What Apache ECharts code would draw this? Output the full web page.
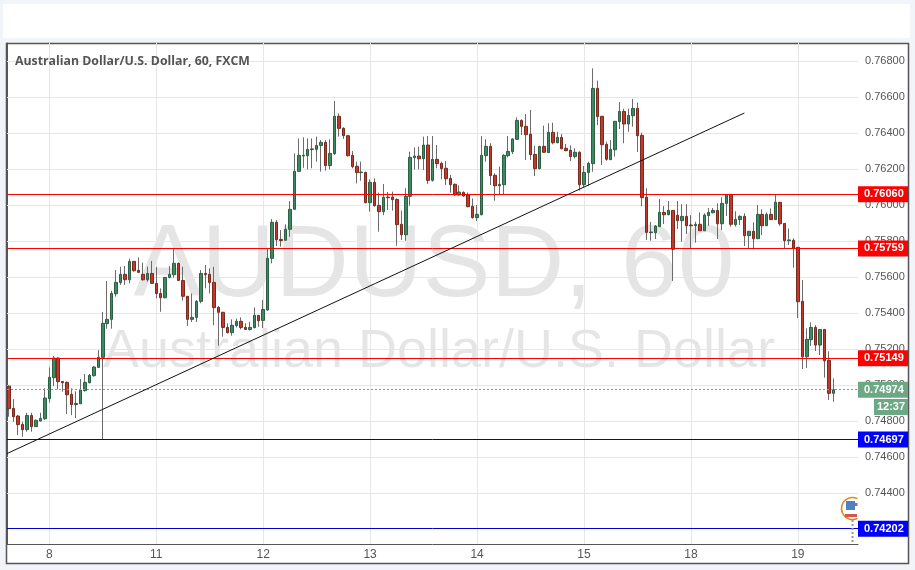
<!DOCTYPE html>
<html>
<head>
<meta charset="utf-8">
<style>
html,body{margin:0;padding:0;background:#f1f4f8}
#chart{width:915px;height:570px}
</style>
<script src="https://cdn.jsdelivr.net/npm/echarts@6/dist/echarts.min.js"></script>
</head>
<body>
<div id="chart"></div>
<script>
// hourly bars
const opens = [
0.74994,0.74870,0.74828,0.74781,0.74752,0.74831,0.74769,0.74800,0.74813,0.74924,
0.75041,0.75150,0.75020,0.75015,0.74948,0.74891,0.74896,0.74969,0.75013,0.75052,
0.75098,0.75154,0.75341,0.75365,0.75507,0.75569,0.75615,0.75585,0.75687,0.75637,
0.75615,0.75585,0.75620,0.75565,0.75509,0.75485,0.75598,0.75613,0.75676,0.75581,
0.75493,0.75365,0.75376,0.75465,0.75620,0.75615,0.75570,0.75431,0.75404,0.75320,
0.75291,0.75330,0.75354,0.75320,0.75309,0.75319,0.75387,0.75359,0.75417,0.75704,
0.75904,0.75809,0.75804,0.75865,0.75976,0.76187,0.76272,0.76274,0.76311,0.76309,
0.76331,0.76348,0.76219,0.76285,0.76493,0.76426,0.76385,0.76276,0.76215,0.76180,
0.76181,0.76013,0.76126,0.75998,0.75963,0.76044,0.76044,0.76031,0.75893,0.75835,
0.76048,0.76263,0.76272,0.76257,0.76333,0.76137,0.76254,0.76231,0.76204,0.76148,
0.76115,0.76056,0.76070,0.76057,0.75993,0.75930,0.75946,0.76274,0.76326,0.76165,
0.76107,0.76113,0.76274,0.76296,0.76365,0.76470,0.76437,0.76393,0.76281,0.76202,
0.76326,0.76291,0.76404,0.76346,0.76376,0.76315,0.76304,0.76269,0.76293,0.76113,
0.76180,0.76230,0.76648,0.76493,0.76337,0.76252,0.76307,0.76463,0.76520,0.76450,
0.76496,0.76537,0.76387,0.76043,0.75846,0.75846,0.75880,0.75959,0.75946,0.75970,
0.75943,0.75913,0.75937,0.75889,0.75885,0.75893,0.75857,0.75941,0.75957,0.75970,
0.75896,0.76009,0.76059,0.75891,0.75919,0.75937,0.75830,0.75854,0.75813,0.75948,
0.75885,0.75948,0.75919,0.76015,0.75898,0.75802,0.75804,0.75765,0.75465,0.75157,
0.75252,0.75320,0.75222,0.75309,0.75137,0.74954]
const closes = [
0.74869,0.74824,0.74780,0.74752,0.74831,0.74769,0.74804,0.74815,0.74928,0.75043,
0.75150,0.75019,0.75013,0.74946,0.74891,0.74898,0.74972,0.75015,0.75054,0.75100,
0.75154,0.75343,0.75365,0.75509,0.75570,0.75615,0.75585,0.75687,0.75635,0.75626,
0.75585,0.75620,0.75565,0.75509,0.75485,0.75598,0.75615,0.75676,0.75581,0.75493,
0.75365,0.75376,0.75465,0.75620,0.75613,0.75570,0.75430,0.75404,0.75320,0.75291,
0.75332,0.75354,0.75320,0.75309,0.75320,0.75387,0.75357,0.75420,0.75704,0.75904,
0.75807,0.75802,0.75865,0.75976,0.76187,0.76276,0.76276,0.76309,0.76309,0.76331,
0.76348,0.76219,0.76287,0.76493,0.76426,0.76385,0.76274,0.76213,0.76180,0.76183,
0.76013,0.76126,0.75996,0.75963,0.76043,0.76041,0.76030,0.75891,0.75835,0.76048,
0.76265,0.76272,0.76257,0.76333,0.76137,0.76254,0.76230,0.76202,0.76146,0.76113,
0.76057,0.76072,0.76050,0.75991,0.75930,0.75948,0.76276,0.76326,0.76163,0.76107,
0.76115,0.76276,0.76298,0.76367,0.76470,0.76437,0.76391,0.76280,0.76202,0.76326,
0.76293,0.76404,0.76346,0.76376,0.76313,0.76302,0.76269,0.76293,0.76113,0.76181,
0.76231,0.76648,0.76491,0.76335,0.76254,0.76309,0.76465,0.76520,0.76450,0.76498,
0.76537,0.76385,0.76041,0.75848,0.75850,0.75883,0.75959,0.75946,0.75970,0.75754,
0.75913,0.75937,0.75885,0.75885,0.75893,0.75857,0.75944,0.75959,0.75970,0.75896,
0.76009,0.76059,0.75893,0.75920,0.75937,0.75830,0.75854,0.75813,0.75948,0.75885,
0.75948,0.75919,0.76015,0.75896,0.75802,0.75806,0.75761,0.75463,0.75157,0.75254,
0.75320,0.75222,0.75309,0.75135,0.74954,0.74974]
const highs = [
0.74998,0.74922,0.74833,0.74796,0.74846,0.74846,0.74809,0.74846,0.74982,0.75098,
0.75161,0.75154,0.75020,0.75020,0.74982,0.74965,0.75033,0.75061,0.75061,0.75106,
0.75194,0.75406,0.75578,0.75524,0.75639,0.75657,0.75661,0.75702,0.75687,0.75709,
0.75680,0.75657,0.75689,0.75657,0.75537,0.75598,0.75661,0.75759,0.75681,0.75657,
0.75493,0.75509,0.75472,0.75639,0.75667,0.75648,0.75657,0.75439,0.75407,0.75343,
0.75365,0.75369,0.75376,0.75343,0.75352,0.75431,0.75387,0.75472,0.75757,0.75922,
0.75917,0.75861,0.75893,0.76022,0.76287,0.76370,0.76376,0.76370,0.76370,0.76380,
0.76361,0.76361,0.76365,0.76578,0.76509,0.76432,0.76389,0.76300,0.76241,0.76241,
0.76185,0.76143,0.76148,0.76069,0.76117,0.76072,0.76074,0.76037,0.75969,0.76093,
0.76296,0.76320,0.76324,0.76380,0.76383,0.76383,0.76333,0.76241,0.76244,0.76167,
0.76120,0.76109,0.76076,0.76070,0.76037,0.76000,0.76383,0.76365,0.76343,0.76176,
0.76213,0.76283,0.76383,0.76370,0.76487,0.76476,0.76506,0.76528,0.76328,0.76328,
0.76441,0.76454,0.76457,0.76407,0.76394,0.76339,0.76331,0.76315,0.76298,0.76217,
0.76241,0.76759,0.76691,0.76494,0.76352,0.76361,0.76465,0.76572,0.76535,0.76535,
0.76589,0.76569,0.76402,0.76093,0.75906,0.75889,0.76033,0.75994,0.76022,0.75972,
0.76022,0.76004,0.76004,0.75944,0.75907,0.75959,0.75954,0.75983,0.75983,0.76009,
0.76043,0.76059,0.76059,0.75965,0.75943,0.75954,0.75854,0.75904,0.76000,0.75976,
0.75959,0.75981,0.76059,0.76015,0.75898,0.75870,0.75815,0.75765,0.75583,0.75315,
0.75348,0.75333,0.75309,0.75309,0.75187,0.75037]
const lows = [
0.74824,0.74796,0.74722,0.74713,0.74741,0.74741,0.74769,0.74800,0.74806,0.74902,
0.74994,0.74976,0.74963,0.74839,0.74833,0.74817,0.74896,0.74963,0.75009,0.75046,
0.75098,0.74698,0.75313,0.75313,0.75491,0.75556,0.75556,0.75565,0.75630,0.75626,
0.75580,0.75574,0.75561,0.75481,0.75407,0.75481,0.75593,0.75596,0.75578,0.75469,
0.75328,0.75350,0.75350,0.75454,0.75537,0.75509,0.75332,0.75219,0.75269,0.75287,
0.75274,0.75320,0.75309,0.75306,0.75302,0.75315,0.75324,0.75317,0.75413,0.75676,
0.75772,0.75769,0.75804,0.75824,0.75976,0.76187,0.76207,0.76198,0.76204,0.76241,
0.76185,0.76191,0.76198,0.76278,0.76380,0.76367,0.76269,0.76204,0.76120,0.76135,
0.76009,0.75963,0.75991,0.75852,0.75944,0.75972,0.75969,0.75774,0.75806,0.75802,
0.75996,0.76198,0.76198,0.76194,0.76117,0.76130,0.76204,0.76143,0.76111,0.76069,
0.76050,0.76050,0.76046,0.75987,0.75924,0.75911,0.75943,0.76241,0.76111,0.76024,
0.76059,0.76059,0.76265,0.76283,0.76361,0.76389,0.76250,0.76250,0.76161,0.76198,
0.76289,0.76291,0.76337,0.76343,0.76309,0.76298,0.76244,0.76259,0.76080,0.76098,
0.76106,0.76185,0.76444,0.76222,0.76246,0.76250,0.76269,0.76422,0.76343,0.76407,
0.76435,0.76294,0.75994,0.75806,0.75802,0.75811,0.75880,0.75894,0.75944,0.75578,
0.75867,0.75796,0.75839,0.75759,0.75791,0.75857,0.75856,0.75885,0.75954,0.75811,
0.75861,0.75939,0.75880,0.75880,0.75889,0.75772,0.75759,0.75754,0.75811,0.75833,
0.75885,0.75917,0.75917,0.75885,0.75759,0.75778,0.75652,0.75372,0.75089,0.75096,
0.75217,0.75189,0.75167,0.75041,0.74917,0.74907]

const dayLabels = ['8', '11', '12', '13', '14', '15', '18', '19']
const firstDayBar = 9
const barsPerDay = 24
const slotCount = 191
const priceTicks = [0.744, 0.746, 0.748, 0.75, 0.752, 0.754, 0.756, 0.758, 0.76, 0.762, 0.764, 0.766, 0.768]

const levelValues = [0.7606, 0.75759, 0.75149, 0.74697, 0.74202]
const levelColors = ['#ff0000', '#ff0000', '#ff0000', '#0000c8', '#0000c8']
const levelBoxes = ['#ff0000', '#ff0000', '#ff0000', '#0000ff', '#0000ff']
const lastPrice = 0.74974
const trendBars = [0, 165.5]
const trendPrices = [0.746194, 0.765111]

const categories = new Array(slotCount).fill('')
dayLabels.forEach((d, i) => { categories[firstDayBar + i * barsPerDay] = d })
const isDay = (i, v) => v !== ''

const wicks = opens.map((o, i) => [o, closes[i], lows[i], highs[i]])
const bodies = opens.map((o, i) => [o, closes[i], Math.min(o, closes[i]), Math.max(o, closes[i])])

const green = '#3c8a62'
const red = '#c0392b'
const tagGreen = '#6da886'

const levelLines = levelValues.map((v, i) => ({
    yAxis: v,
    lineStyle: { color: levelColors[i], width: 1, type: 'solid' },
    label: { backgroundColor: levelBoxes[i] }
}))
levelLines.push({
    yAxis: lastPrice,
    lineStyle: { color: tagGreen, width: 1, type: [2, 2] },
    label: { backgroundColor: tagGreen }
})

const chart = echarts.init(document.getElementById('chart'))
chart.setOption({
    animation: false,
    backgroundColor: '#f1f4f8',
    title: {
        text: 'Australian Dollar/U.S. Dollar, 60, FXCM',
        left: 15,
        top: 55,
        padding: 0,
        textStyle: { fontFamily: 'Open Sans', fontSize: 12.3, fontWeight: 'bold', color: '#555555' }
    },
    grid: { left: 7, right: 57, top: 43, bottom: 26 },
    xAxis: [
        {
            type: 'category',
            data: categories,
            axisLine: { lineStyle: { color: '#555555' } },
            axisTick: { interval: isDay, alignWithLabel: true, length: 4, lineStyle: { color: '#555555' } },
            axisLabel: { interval: isDay, color: '#555555', fontFamily: 'Liberation Sans', fontSize: 12, margin: 5 },
            splitLine: { show: true, interval: isDay, alignWithLabel: true, lineStyle: { color: '#e6e6e6' } }
        },
        { type: 'value', min: 0, max: slotCount, show: false }
    ],
    yAxis: {
        type: 'value',
        position: 'right',
        min: 0.74117,
        max: 0.769,
        axisLine: { show: true, lineStyle: { color: '#555555' } },
        axisTick: { show: true, length: 4, customValues: priceTicks.concat(levelValues, lastPrice), lineStyle: { color: '#555555' } },
        axisLabel: {
            customValues: priceTicks,
            color: '#555555',
            fontFamily: 'Liberation Sans',
            fontSize: 11,
            margin: 7,
            formatter: v => v.toFixed(5)
        },
        splitLine: { show: false }
    },
    series: [
        {
            type: 'candlestick',
            name: 'wicks',
            data: wicks,
            barWidth: 1,
            z: 2,
            itemStyle: { color: '#6b6b6b', color0: '#6b6b6b', borderColor: '#6b6b6b', borderColor0: '#6b6b6b', borderColorDoji: '#6b6b6b', borderWidth: 1 },
            // horizontal grid lines, the axis would count them from min
            markLine: {
                silent: true,
                symbol: 'none',
                animation: false,
                precision: 5,
                z: 1,
                label: { show: false },
                lineStyle: { color: '#e6e6e6', width: 1, type: 'solid' },
                data: priceTicks.map(v => ({ yAxis: v }))
            }
        },
        {
            type: 'candlestick',
            name: 'bodies',
            data: bodies,
            barWidth: 3,
            z: 3,
            itemStyle: { color: green, color0: red, borderColor: '#2c5f44', borderColor0: '#7a2a1e', borderColorDoji: '#2c5f44', borderWidth: 1 },
            markLine: {
                silent: true,
                symbol: 'none',
                animation: false,
                precision: 5,
                z: 4,
                label: {
                    show: true,
                    position: 'end',
                    distance: 0,
                    formatter: p => p.value.toFixed(5),
                    color: '#ffffff',
                    fontFamily: 'Liberation Sans',
                    fontSize: 11,
                    fontWeight: 'bold',
                    width: 44,
                    align: 'left',
                    padding: [2, 0, 2, 6],
                    lineHeight: 12
                },
                data: levelLines
            }
        },
        {
            type: 'line',
            name: 'trend',
            xAxisIndex: 1,
            data: trendBars.map((b, i) => [b, trendPrices[i]]),
            symbol: 'none',
            silent: true,
            z: 4,
            lineStyle: { color: '#111111', width: 1 }
        }
    ],
    graphic: [
        { type: 'rect', z: -3, shape: { x: 3, y: 4, width: 907, height: 34 }, style: { fill: '#ffffff' } },
        { type: 'rect', z: -3, shape: { x: 6.5, y: 43.5, width: 902, height: 520 }, style: { fill: '#ffffff', stroke: '#555555', lineWidth: 1.5 } },
        { type: 'text', z: -1, x: 434, y: 268, style: { text: 'AUDUSD, 60', fontFamily: 'Liberation Sans', fontSize: 102, fill: 'rgba(0,0,0,0.1)', textAlign: 'center', textVerticalAlign: 'middle' } },
        { type: 'text', z: -1, x: 439, y: 352, style: { text: 'Australian Dollar/U.S. Dollar', fontFamily: 'Liberation Sans', fontSize: 54, fill: 'rgba(0,0,0,0.1)', textAlign: 'center', textVerticalAlign: 'middle' } },
        { type: 'rect', z: 6, shape: { x: 874, y: 399, width: 34, height: 16 }, style: { fill: tagGreen } },
        { type: 'text', z: 7, x: 891, y: 407, style: { text: '12:37', fontFamily: 'Liberation Sans', fontSize: 11, fontWeight: 'bold', fill: '#ffffff', textAlign: 'center', textVerticalAlign: 'middle' } },
        { type: 'line', z: 5, shape: { x1: 852.5, y1: 520, x2: 852.5, y2: 544 }, style: { stroke: '#999999', lineWidth: 2, lineDash: [2, 2] } },
        { type: 'sector', z: 6, shape: { cx: 852.5, cy: 508.5, r: 11, startAngle: 1.099, endAngle: 5.184, clockwise: true }, style: { fill: '#ffffff' } },
        { type: 'polygon', z: 6, shape: { points: [[852.5, 508.5], [857.5, 498.7], [857.5, 518.3]] }, style: { fill: '#ffffff' } },
        { type: 'arc', z: 6, shape: { cx: 852.5, cy: 508.5, r: 11, startAngle: 1.099, endAngle: 5.184, clockwise: true }, style: { stroke: '#d98a1e', lineWidth: 1.5, fill: 'none' } },
        { type: 'rect', z: 7, shape: { x: 846, y: 501, width: 9, height: 9 }, style: { fill: '#4f7fc4' } },
        { type: 'rect', z: 7, shape: { x: 855, y: 503, width: 2.5, height: 3 }, style: { fill: '#d9534f' } },
        { type: 'rect', z: 7, shape: { x: 845, y: 514, width: 12, height: 3 }, style: { fill: '#d9534f' } }
    ]
})
</script>
</body>
</html>
